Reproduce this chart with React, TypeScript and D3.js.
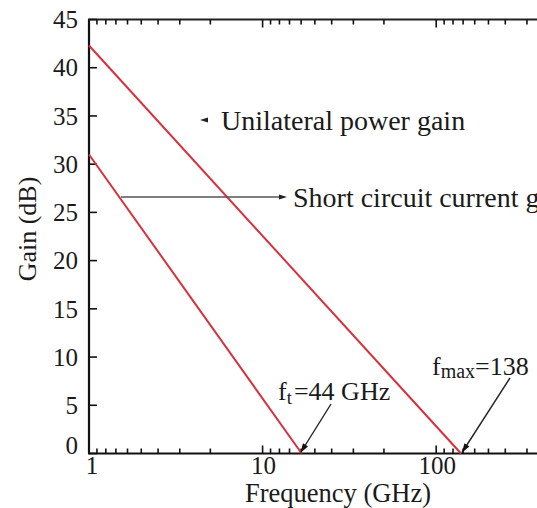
import React from "react";
import * as d3 from "d3";

// ---- data ----
const freqMajorTicks = [1, 10, 100, 1000];
const freqTickLabels = ["1", "10", "100", ""];
const freqDecades = [1, 10, 100];
const minorDivisors = [2, 3, 4, 5, 6, 7, 8, 9];
const gainTicks = [0, 5, 10, 15, 20, 25, 30, 35, 40, 45];
const gainTickLabels = ["0", "5", "10", "15", "20", "25", "30", "35", "40", "45"];

const unilateralFreq = [1, 139];
const unilateralGain = [42.3, 0];
const currentFreq = [1, 16.8];
const currentGain = [31.0, 0];

const ftLabel = "=44 GHz";
const fmaxLabel = "=138";
const unilateralLabel = "Unilateral power gain";
const currentLabel = "Short circuit current gain";
const xTitle = "Frequency (GHz)";
const yTitle = "Gain (dB)";

const W = 537;
const H = 508;
const FONT = "'Liberation Serif', 'Times New Roman', serif";
const RED = "#d6323d";
const INK = "#1a1a1a";

function arrowHead(tx: number, ty: number, fx: number, fy: number, len = 9, half = 3.2) {
  const a = Math.atan2(ty - fy, tx - fx);
  const bx = tx - len * Math.cos(a);
  const by = ty - len * Math.sin(a);
  const px = -Math.sin(a) * half;
  const py = Math.cos(a) * half;
  return `M${tx},${ty}L${bx + px},${by + py}L${bx - px},${by - py}Z`;
}

export default function App() {
  const x = d3.scaleLog().domain([1, 1000]).range([89, 89 + 3 * 173.6]);
  const y = d3.scaleLinear().domain([0, 45]).range([453.5, 19.5]);
  const line = d3
    .line<[number, number]>()
    .x((d) => x(d[0]))
    .y((d) => y(d[1]));

  const uniPts = unilateralFreq.map((f, i) => [f, unilateralGain[i]] as [number, number]);
  const curPts = currentFreq.map((f, i) => [f, currentGain[i]] as [number, number]);

  const minorTicks: number[] = [];
  freqDecades.forEach((d) => minorDivisors.forEach((k) => minorTicks.push((d * 10) / k)));

  const x0 = x(1);
  const xEnd = x(1000);
  const yTop = y(45);
  const yBot = y(0);

  // annotation arrows
  const ftTip: [number, number] = [x(currentFreq[1]) - 1, yBot - 1];
  const ftTail: [number, number] = [331, 404];
  const fmaxTip: [number, number] = [x(unilateralFreq[1]) + 1, yBot - 1];
  const fmaxTail: [number, number] = [510, 378];
  const curArrowY = 197;
  const curArrowStart = 121;
  const curArrowEnd = 287;

  return (
    <svg
      width={W}
      height={H}
      style={{ position: "fixed", left: 0, top: 0, background: "#fff" }}
      fontFamily={FONT}
    >
      <rect x={0} y={0} width={W} height={H} fill="#fff" />

      {/* frame */}
      <line x1={x0} x2={x0} y1={yTop} y2={yBot} stroke="#111" strokeWidth={2.2} />
      <line x1={x0 - 1} x2={xEnd} y1={yBot} y2={yBot} stroke="#111" strokeWidth={2.2} />
      <line x1={x0 - 1} x2={xEnd} y1={yTop} y2={yTop} stroke="#222" strokeWidth={2} />

      {/* y ticks */}
      {gainTicks.map((g, i) => (
        <g key={"y" + g}>
          <line x1={x0} x2={x0 + 8} y1={y(g)} y2={y(g)} stroke="#111" strokeWidth={1.6} />
          <text
            x={78}
            y={y(g) + (g === 0 ? -8 : 0)}
            dy="0.35em"
            textAnchor="end"
            fontSize={25}
            fill={INK}
          >
            {gainTickLabels[i]}
          </text>
        </g>
      ))}

      {/* x major ticks */}
      {freqMajorTicks.map((f, i) => (
        <g key={"x" + f}>
          <line x1={x(f)} x2={x(f)} y1={yBot} y2={yBot - 8} stroke="#111" strokeWidth={1.6} />
          <line x1={x(f)} x2={x(f)} y1={yTop} y2={yTop + 8} stroke="#111" strokeWidth={1.6} />
          {freqTickLabels[i] ? (
            <text x={x(f) + (f === 1 ? 3 : 1)} y={474} textAnchor="middle" fontSize={25} fill={INK}>
              {freqTickLabels[i]}
            </text>
          ) : null}
        </g>
      ))}
      {/* x minor ticks */}
      {minorTicks.map((f, i) => (
        <g key={"m" + i}>
          <line x1={x(f)} x2={x(f)} y1={yBot} y2={yBot - 5} stroke="#111" strokeWidth={1.6} />
          <line x1={x(f)} x2={x(f)} y1={yTop} y2={yTop + 5} stroke="#111" strokeWidth={1.6} />
        </g>
      ))}

      {/* series */}
      <path d={line(uniPts) || ""} fill="none" stroke={RED} strokeWidth={2} />
      <path d={line(curPts) || ""} fill="none" stroke={RED} strokeWidth={2} />

      {/* axis titles */}
      <text x={338} y={502} textAnchor="middle" fontSize={26.5} fill={INK}>
        {xTitle}
      </text>
      <text
        transform={`translate(36,229) rotate(-90)`}
        textAnchor="middle"
        fontSize={26}
        fill={INK}
      >
        {yTitle}
      </text>

      {/* Unilateral label */}
      <path d={arrowHead(200, 120, 210, 120, 8, 2.6)} fill="#222" />
      <text x={221} y={130} fontSize={28} fill={INK}>
        {unilateralLabel}
      </text>

      {/* Short circuit current gain label with arrow */}
      <line x1={curArrowStart} x2={curArrowEnd - 4} y1={curArrowY} y2={curArrowY} stroke="#555" strokeWidth={1.6} />
      <path d={arrowHead(curArrowEnd, curArrowY, curArrowStart, curArrowY, 8, 2.6)} fill="#222" />
      <text x={293} y={207} fontSize={28} fill={INK}>
        {currentLabel}
      </text>

      {/* ft annotation */}
      <text x={278} y={400} fontSize={26} fill={INK}>
        f<tspan fontSize={19} dy={4}>t</tspan>
        <tspan dy={-4} dx={2}>{ftLabel}</tspan>
      </text>
      <line x1={ftTail[0]} y1={ftTail[1]} x2={ftTip[0]} y2={ftTip[1]} stroke="#222" strokeWidth={1.4} />
      <path d={arrowHead(ftTip[0], ftTip[1], ftTail[0], ftTail[1], 9, 3)} fill="#111" />

      {/* fmax annotation */}
      <text x={432} y={375} fontSize={26} fill={INK}>
        f<tspan fontSize={20} dy={3}>max</tspan>
        <tspan dy={-3}>{fmaxLabel}</tspan>
      </text>
      <line x1={fmaxTail[0]} y1={fmaxTail[1]} x2={fmaxTip[0]} y2={fmaxTip[1]} stroke="#222" strokeWidth={1.4} />
      <path d={arrowHead(fmaxTip[0], fmaxTip[1], fmaxTail[0], fmaxTail[1], 9, 3)} fill="#111" />
    </svg>
  );
}
